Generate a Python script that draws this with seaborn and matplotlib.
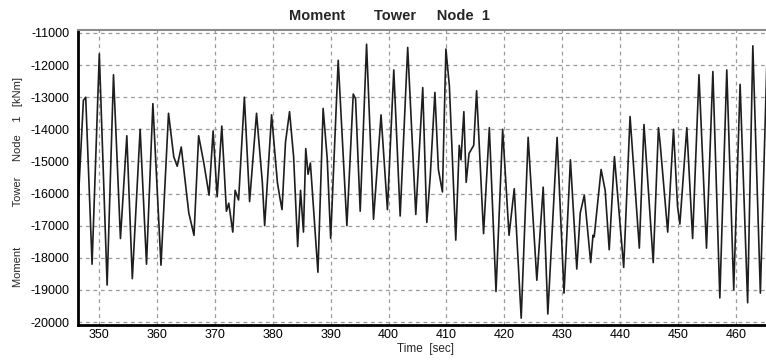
import numpy as np
import pandas as pd
import matplotlib
matplotlib.use("Agg")
import matplotlib.pyplot as plt
import seaborn as sns

# valeurs (pics / creux du signal)
time_sec = [
    346.4, 347.3, 347.7, 348.8, 350.05, 351.4, 352.5, 353.7, 354.8, 355.75,
    357.1, 358.2, 359.3, 360.7, 362.0, 362.9, 363.5, 364.2, 365.5, 366.4,
    367.2, 368.1, 369.0, 369.7, 370.4, 371.2, 372.0, 372.4, 373.1, 373.5,
    374.1, 375.1, 376.0, 377.2, 378.2, 378.6, 379.8, 380.8, 381.2, 381.6,
    382.2, 382.9, 383.6, 384.3, 384.8, 385.3, 385.7, 386.1, 386.5, 387.8,
    388.7, 389.4, 390.0, 391.3, 392.8, 393.9, 394.3, 395.1, 396.2, 397.4,
    398.7, 399.8, 400.9, 402.0, 403.3, 404.7, 405.9, 406.6, 407.2, 408.0,
    408.6, 409.3, 409.9, 410.5, 411.6, 412.2, 412.5, 413.0, 413.4, 413.9,
    414.7, 415.2, 416.4, 417.4, 418.55, 419.7, 420.8, 421.7, 422.9, 424.1,
    425.6, 426.7, 427.5, 429.1, 430.3, 431.4, 432.5, 433.1, 433.8, 434.9,
    435.3, 435.5, 436.7, 437.4, 438.1, 439.0, 440.6, 441.7, 443.3, 444.1,
    445.7, 446.6, 446.9, 448.2, 449.2, 449.9, 450.3, 451.5, 452.5, 453.6,
    454.9, 456.0, 457.2, 458.4, 459.6, 460.7, 462.0, 462.9, 464.2, 465.3,
]
moment_knm = [
    -16300, -13100, -13000, -18200, -11650, -18850, -12300, -17400, -14200, -18650,
    -14000, -18200, -13200, -18230, -13500, -14850, -15150, -14550, -16600, -17300,
    -14200, -15050, -16050, -14050, -16100, -13900, -16550, -16300, -17200, -15900,
    -16200, -13000, -16250, -13500, -15650, -17000, -13550, -15650, -16100, -16500,
    -14400, -13450, -14850, -17650, -15900, -17200, -14600, -15400, -15050, -18450,
    -13350, -14900, -17400, -11850, -17000, -12900, -13050, -16550, -11350, -16800,
    -13550, -16500, -12150, -16700, -11450, -16650, -12700, -16900, -15450, -12850,
    -15250, -15950, -11500, -12650, -17450, -14500, -14950, -13450, -15650, -14750,
    -14500, -12800, -17250, -13950, -19050, -14000, -17300, -15850, -19880, -14250,
    -18700, -15800, -19750, -14250, -19100, -14950, -18350, -16600, -16050, -18150,
    -17300, -17350, -15250, -15900, -17750, -14850, -18300, -13600, -17700, -13850,
    -18150, -13950, -14450, -17200, -14000, -16400, -16950, -13950, -17400, -12300,
    -17700, -12200, -19250, -12150, -19000, -12600, -19400, -11400, -19100, -12050,
]

y_ticks = list(range(-20000, -10999, 1000))
x_ticks = list(range(350, 461, 10))

df = pd.DataFrame({'Time': time_sec, 'Moment': moment_knm})

sns.set_style('white')
plt.rcParams['font.family'] = ['Liberation Sans', 'DejaVu Sans']
plt.rcParams['axes.unicode_minus'] = False

fig = plt.figure(figsize=(7.66, 3.64), dpi=100)
ax = fig.add_axes([78/766, 1 - 325/364, (776 - 78)/766, (325 - 30)/364])

sns.lineplot(data=df, x='Time', y='Moment', estimator=None, sort=False,
             color='#1e1e1e', linewidth=1.2, ax=ax)

ax.set_xlim(346.37, 466.9)
ax.set_ylim(-20093, -10907)
ax.set_xticks(x_ticks)
ax.set_yticks(y_ticks)
ax.set_xticks(np.arange(348, 467, 2), minor=True)
ax.grid(True, which='major', color='#9a9a9a', linestyle=(0, (3, 3)), linewidth=0.9)
ax.tick_params(axis='y', which='major', direction='out', length=4, width=1,
               labelsize=9, pad=2, colors='black')
ax.tick_params(axis='x', which='major', direction='in', length=3, width=1,
               labelsize=9, pad=3, colors='black')
ax.tick_params(axis='x', which='minor', direction='in', length=2, width=0.8)

for side in ['left', 'bottom']:
    ax.spines[side].set_color('black')
    ax.spines[side].set_linewidth(2)
ax.spines['top'].set_color('#8a8a8a')
ax.spines['top'].set_linewidth(1.5)
ax.spines['right'].set_visible(False)

ax.set_xlabel('')
ax.set_ylabel('')

# titres placés comme sur l'original
fig.text(289/766, 1 - 15.5/364, 'Moment       Tower     Node  1',
         ha='left', va='center', fontsize=10.5, fontweight='bold')
fig.text(397/766, 1 - 349/364, 'Time  [sec]', ha='left', va='center', fontsize=8.5)
fig.text(18/766, 1 - 287/364, 'Moment             Tower     Node    1   [kNm]',
         rotation=90, ha='center', va='bottom', fontsize=8)

fig.savefig('out.png', dpi=100)
